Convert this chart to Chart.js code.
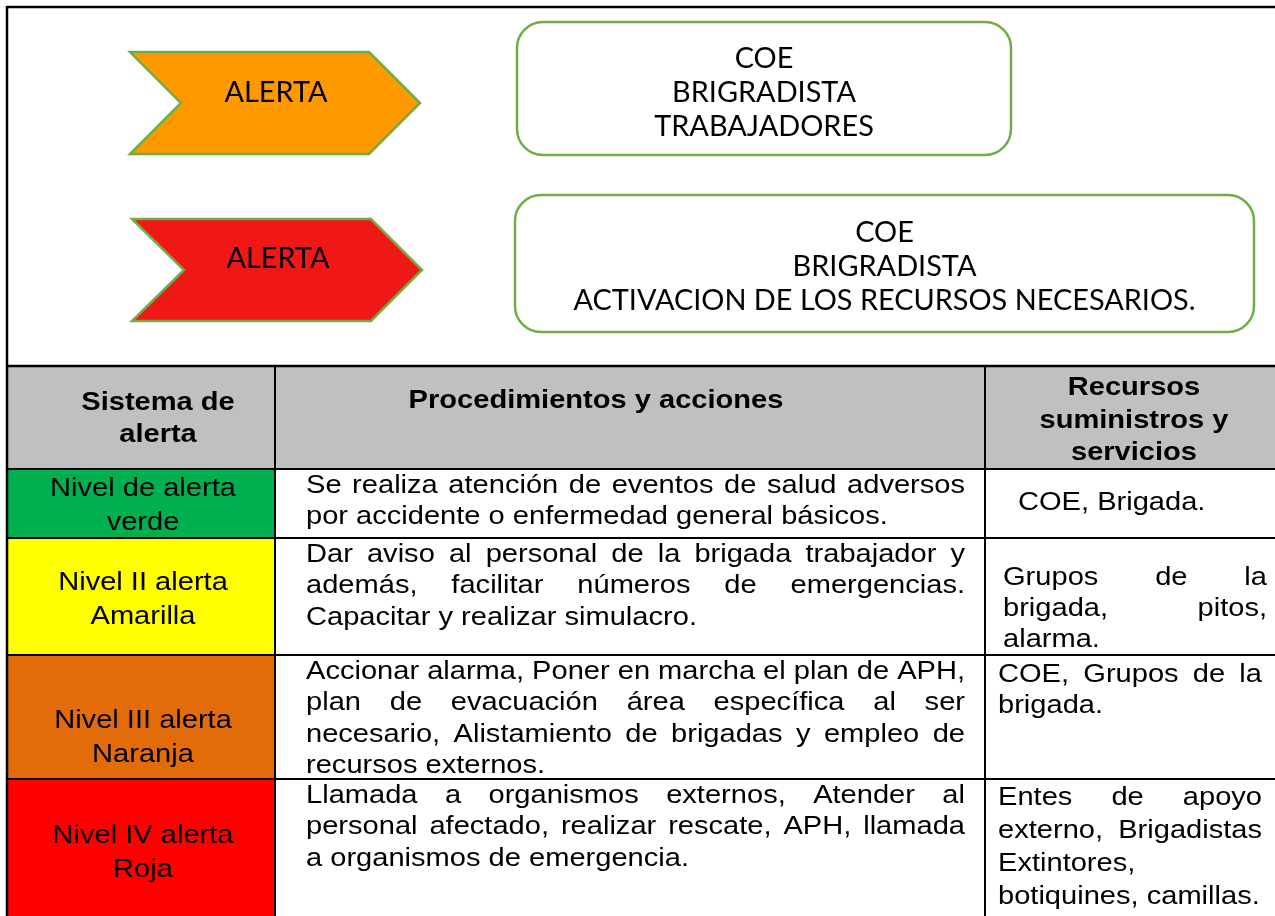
<!DOCTYPE html>
<html><head><meta charset="utf-8">
<script src="https://cdn.jsdelivr.net/npm/chart.js@4"></script>
<style>html,body{margin:0;padding:0;background:#fff;overflow:hidden}#wrap{width:1275px;height:916px}</style>
</head><body><div id="wrap"><canvas id="c" width="1275" height="916"></canvas></div>
<script>
// ---- data ----
const alertLabels = ['ALERTA', 'ALERTA'];
const alertColors = ['#FF9900', '#F21717'];
const boxLines = [
  ['COE', 'BRIGRADISTA', 'TRABAJADORES'],
  ['COE', 'BRIGRADISTA', 'ACTIVACION DE LOS RECURSOS NECESARIOS.']
];
const headers = [['Sistema de', 'alerta'], ['Procedimientos y acciones'], ['Recursos', 'suministros y', 'servicios']];
const levels = [['Nivel de alerta', 'verde'], ['Nivel II alerta', 'Amarilla'], ['Nivel III alerta', 'Naranja'], ['Nivel IV alerta', 'Roja']];
const levelColors = ['#00B050', '#FFFF00', '#E36C0A', '#FF0000'];
const procedures = [
  ['Se realiza atención de eventos de salud adversos', 'por accidente o enfermedad general básicos.'],
  ['Dar aviso al personal de la brigada trabajador y', 'además, facilitar números de emergencias.', 'Capacitar y realizar simulacro.'],
  ['Accionar alarma, Poner en marcha el plan de APH,', 'plan de evacuación área específica al ser', 'necesario, Alistamiento de brigadas y empleo de', 'recursos externos.'],
  ['Llamada a organismos externos, Atender al', 'personal afectado, realizar rescate, APH, llamada', 'a organismos de emergencia.']
];
const resources = [
  ['COE, Brigada.'],
  ['Grupos de la', 'brigada, pitos,', 'alarma.'],
  ['COE, Grupos de la', 'brigada.'],
  ['Entes de apoyo', 'externo, Brigadistas', 'Extintores,', 'botiquines, camillas.']
];

// ---- layout (pixels) ----
const L = {
  arrows: [
    {x0: 130, x1: 369, tip: 420, notch: 181, y0: 52, y1: 154, tx: 276, ty: 102},
    {x0: 132, x1: 371, tip: 422, notch: 184, y0: 219, y1: 321, tx: 278, ty: 268}
  ],
  boxes: [
    {x0: 517, x1: 1011, y0: 22, y1: 155, base: 68},
    {x0: 515, x1: 1254, y0: 195, y1: 332, base: 242}
  ],
  topLine: 34,
  frameX: 7, frameY: 7, sectionY: 366,
  headTop: 367, headBot: 469,
  cols: [7, 275, 985, 1280],
  rows: [469, 538, 655, 779, 940],
  c1Base: [496, 590, 728, 843], c1Step: 34, c1X: 143,
  c2Base: [493, 562, 679, 803], c2Step: 31.3, c2X: 306, c2W: 659,
  c3Base: [510, 585, 682, 805], c3Step: [0, 31, 31, 33], c3X: [1018, 1003, 998, 998], c3W: 264,
  bodyPx: 25.5, bodySx: 1.14
};

function drawScaled(ctx, text, x, y, sx, align) {
  ctx.save();
  ctx.translate(x, y);
  ctx.scale(sx, 1);
  ctx.textAlign = align || 'left';
  ctx.fillText(text, 0, 0);
  ctx.restore();
}
function drawLine(ctx, line, x, y, width, justify, sx) {
  const words = line.split(' ');
  const total = ctx.measureText(line).width * sx;
  if (!justify || words.length < 2) {
    if (total > width) {
      drawScaled(ctx, line, x, y, sx * width / total, 'left');
    } else drawScaled(ctx, line, x, y, sx, 'left');
    return;
  }
  const ww = words.map(w => ctx.measureText(w).width * sx);
  const sum = ww.reduce((a, b) => a + b, 0);
  let gap = (width - sum) / (words.length - 1);
  let k = 1;
  const minGap = 2;
  if (gap < minGap) { gap = minGap; k = (width - minGap * (words.length - 1)) / sum; }
  let cx = x;
  words.forEach((w, i) => {
    drawScaled(ctx, w, cx, y, sx * k, 'left');
    cx += ww[i] * k + gap;
  });
}

const diagramPlugin = {
  id: 'diagram',
  afterDraw(chart) {
    const ctx = chart.ctx;
    ctx.save();
    ctx.fillStyle = '#fff';
    ctx.fillRect(0, 0, 1275, 916);
    ctx.textBaseline = 'alphabetic';

    // top font scale
    ctx.font = '28px Lato';
    const topSx = 622 / ctx.measureText(boxLines[1][2]).width;

    // arrows
    L.arrows.forEach((a, i) => {
      const ym = (a.y0 + a.y1) / 2;
      ctx.beginPath();
      ctx.moveTo(a.x0, a.y0); ctx.lineTo(a.x1, a.y0); ctx.lineTo(a.tip, ym);
      ctx.lineTo(a.x1, a.y1); ctx.lineTo(a.x0, a.y1); ctx.lineTo(a.notch, ym); ctx.closePath();
      ctx.fillStyle = alertColors[i]; ctx.fill();
      ctx.lineWidth = 2.5; ctx.strokeStyle = '#70AD47'; ctx.lineJoin = 'miter'; ctx.stroke();
      ctx.fillStyle = '#000'; ctx.font = '28px Lato';
      drawScaled(ctx, alertLabels[i], a.tx, a.ty, topSx, 'center');
    });
    // boxes
    L.boxes.forEach((b, i) => {
      ctx.beginPath();
      ctx.roundRect(b.x0, b.y0, b.x1 - b.x0, b.y1 - b.y0, 26);
      ctx.fillStyle = '#fff'; ctx.fill();
      ctx.lineWidth = 2.5; ctx.strokeStyle = '#70AD47'; ctx.stroke();
      ctx.fillStyle = '#000'; ctx.font = '28px Lato';
      boxLines[i].forEach((t, j) => drawScaled(ctx, t, (b.x0 + b.x1) / 2, b.base + j * L.topLine, topSx, 'center'));
    });

    // table fills
    ctx.fillStyle = '#C0C0C0';
    ctx.fillRect(L.cols[0], L.headTop, L.cols[3] - L.cols[0], L.headBot - L.headTop);
    levels.forEach((lv, i) => {
      ctx.fillStyle = levelColors[i];
      ctx.fillRect(L.cols[0], L.rows[i], L.cols[1] - L.cols[0], L.rows[i + 1] - L.rows[i]);
    });

    // grid lines
    ctx.strokeStyle = '#000';
    ctx.lineWidth = 2.5;
    ctx.beginPath();
    ctx.moveTo(L.frameX, L.frameY); ctx.lineTo(1280, L.frameY);
    ctx.moveTo(L.frameX, L.frameY - 1); ctx.lineTo(L.frameX, 930);
    ctx.moveTo(L.frameX, L.sectionY); ctx.lineTo(1280, L.sectionY);
    ctx.stroke();
    ctx.lineWidth = 2;
    ctx.beginPath();
    L.rows.slice(0, 4).forEach(y => { ctx.moveTo(L.frameX, y); ctx.lineTo(1280, y); });
    [L.cols[1], L.cols[2]].forEach(x => { ctx.moveTo(x, L.sectionY); ctx.lineTo(x, 930); });
    ctx.stroke();

    // header text
    ctx.fillStyle = '#000';
    ctx.font = 'bold ' + L.bodyPx + 'px "Liberation Sans", Arial';
    headers[0].forEach((t, j) => drawScaled(ctx, t, 158, 410 + j * 32, L.bodySx, 'center'));
    headers[1].forEach((t, j) => drawScaled(ctx, t, 596, 408 + j * 32, L.bodySx, 'center'));
    headers[2].forEach((t, j) => drawScaled(ctx, t, 1134, 395 + j * 32.5, L.bodySx, 'center'));

    // body text
    ctx.font = L.bodyPx + 'px "Liberation Sans", Arial';
    levels.forEach((lv, i) => {
      lv.forEach((t, j) => drawScaled(ctx, t, L.c1X, L.c1Base[i] + j * L.c1Step, L.bodySx, 'center'));
    });
    procedures.forEach((lines, i) => {
      lines.forEach((t, j) => drawLine(ctx, t, L.c2X, L.c2Base[i] + j * L.c2Step, L.c2W, j < lines.length - 1, L.bodySx));
    });
    resources.forEach((lines, i) => {
      lines.forEach((t, j) => drawLine(ctx, t, L.c3X[i], L.c3Base[i] + j * L.c3Step[i], L.c3W, j < lines.length - 1, L.bodySx));
    });
    ctx.restore();
  }
};

new Chart(document.getElementById('c'), {
  type: 'bar',
  data: { labels: levels.map(l => l.join(' ')), datasets: [] },
  options: {
    responsive: false, animation: false, devicePixelRatio: 1,
    plugins: { legend: { display: false }, tooltip: { enabled: false } },
    scales: { x: { display: false }, y: { display: false } }
  },
  plugins: [diagramPlugin]
});
</script>
</body></html>
